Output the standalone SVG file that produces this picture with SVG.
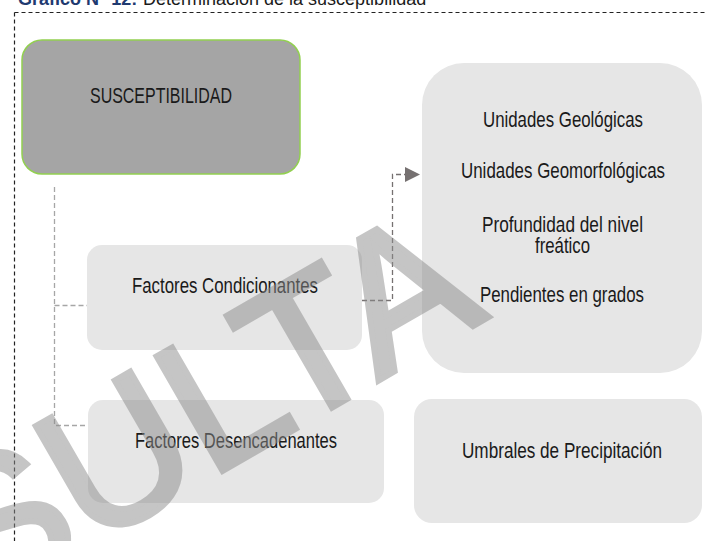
<svg xmlns="http://www.w3.org/2000/svg" width="706" height="541" viewBox="0 0 706 541">
<style>
.lbl{font-family:"Liberation Sans Narrow","Liberation Sans",Arial,sans-serif;font-size:21.5px;fill:#1a1a1a}
.box{fill:#e6e6e6}
.conn{fill:none;stroke:#a6a6a6;stroke-width:1.3;stroke-dasharray:5 3}
.conn2{fill:none;stroke:#767171;stroke-width:1.3;stroke-dasharray:5 3}
</style>
<defs>
<marker id="arr" markerWidth="15" markerHeight="15" refX="15" refY="7.5" orient="auto" markerUnits="userSpaceOnUse">
<path d="M0,0 L15,7.5 L0,15 Z" fill="#767171"/>
</marker>
</defs>
<rect width="706" height="541" fill="#ffffff"/>
<g id="title">
<text x="18" y="5" font-family="Liberation Sans,Arial,sans-serif" font-size="18" font-weight="bold" fill="#1f3a70">Gráfico N° 12:</text>
<text x="143" y="5" font-family="Liberation Sans,Arial,sans-serif" font-size="18" fill="#1a1a1a">Determinación de la susceptibilidad</text>
</g>
<g id="frame">
<path d="M14.5,12.5 H706 M14.5,12.5 V541" fill="none" stroke="#222" stroke-width="1.2" stroke-dasharray="4 3"/>
</g>
<g id="connectors">
<path class="conn" d="M54.5,187 V425.5 H88"/>
<path class="conn" d="M54.5,305.5 H87"/>
<path class="conn2" d="M362,300.5 H392.5 V174.5 H420" marker-end="url(#arr)"/>
</g>
<g id="n_susceptibilidad">
<rect x="22" y="40" width="278" height="134" rx="20" fill="#a5a5a5" stroke="#92d050" stroke-width="1.5"/>
<text class="lbl" x="90" y="103" textLength="142" lengthAdjust="spacingAndGlyphs">SUSCEPTIBILIDAD</text>
</g>
<g id="n_condicionantes">
<rect class="box" x="87" y="245" width="275" height="105" rx="15"/>
<text class="lbl" x="132" y="293" textLength="186" lengthAdjust="spacingAndGlyphs">Factores Condicionantes</text>
</g>
<g id="n_desencadenantes">
<rect class="box" x="88" y="400" width="296" height="103" rx="15"/>
<text class="lbl" x="135" y="448" textLength="202" lengthAdjust="spacingAndGlyphs">Factores Desencadenantes</text>
</g>
<g id="n_unidades">
<rect class="box" x="422" y="63" width="280" height="310" rx="42"/>
<text class="lbl" x="483" y="127" textLength="160" lengthAdjust="spacingAndGlyphs">Unidades Geológicas</text>
<text class="lbl" x="461" y="178" textLength="204" lengthAdjust="spacingAndGlyphs">Unidades Geomorfológicas</text>
<text class="lbl" x="482" y="232" textLength="161" lengthAdjust="spacingAndGlyphs">Profundidad del nivel</text>
<text class="lbl" x="535" y="253" textLength="55" lengthAdjust="spacingAndGlyphs">freático</text>
<text class="lbl" x="480" y="302" textLength="164" lengthAdjust="spacingAndGlyphs">Pendientes en grados</text>
</g>
<g id="n_umbrales">
<rect class="box" x="414" y="399" width="288" height="124" rx="18"/>
<text class="lbl" x="462" y="458" textLength="200" lengthAdjust="spacingAndGlyphs">Umbrales de Precipitación</text>
</g>
<g id="watermark">
<text transform="translate(-22,612) rotate(-30)" font-family="Liberation Sans,Arial,sans-serif" font-size="192" fill="#8c8c8c" stroke="#8c8c8c" stroke-width="6" stroke-linejoin="miter" opacity="0.5">SULTA</text>
</g>
</svg>
